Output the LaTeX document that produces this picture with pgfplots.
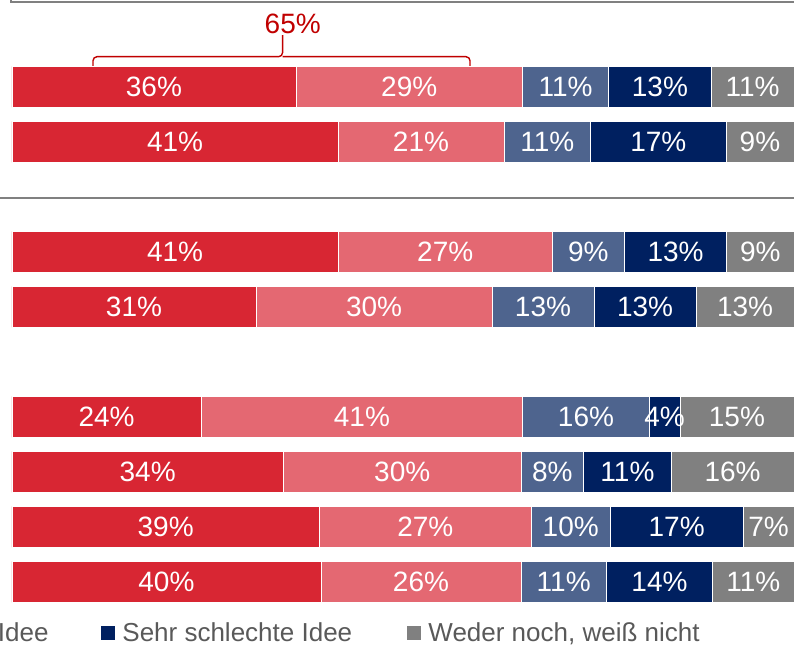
\documentclass[border=0pt]{standalone}
\usepackage{pgfplots}
\pgfplotsset{compat=1.18}
\usepackage{pgfplotstable}
\usepackage{fontspec}
\setmainfont{Liberation Sans}

\definecolor{dred}{RGB}{216,38,51}
\definecolor{lred}{RGB}{228,104,114}
\definecolor{sblue}{RGB}{78,100,142}
\definecolor{navy}{RGB}{0,32,96}
\definecolor{mgray}{RGB}{128,128,128}
\definecolor{txtgray}{RGB}{89,89,89}
\definecolor{anno}{RGB}{192,0,0}

\pgfplotstableread{
y a la b lb c lc d ld e le
0 36.3 36 29.0 29 11.0 11 13.1 13 10.6 11
1 41.7 41 21.2 21 11.1 11 17.3 17 8.7 9
3 41.7 41 27.4 27 9.2 9 13.1 13 8.6 9
4 31.2 31 30.2 30 13.0 13 13.1 13 12.5 13
6 24.2 24 41.1 41 16.2 16 3.9 4 14.6 15
7 34.7 34 30.4 30 8.0 8 11.2 11 15.7 16
8 39.3 39 27.1 27 10.1 10 17.0 17 6.5 7
9 39.5 40 25.6 26 10.9 11 13.6 14 10.4 11
}\data

\begin{document}
\begin{tikzpicture}
\begin{axis}[name=ax, x=3.91pt, y=27.5pt, y dir=reverse,
  xmin=-1.5345, xmax=100, ymin=-1.5818, ymax=10.1636,
  hide axis, clip=false,
  xbar stacked, bar width=20.5pt,
  point meta=explicit symbolic,
  nodes near coords={\pgfplotspointmeta\%},
  every node near coord/.append style={text=white, font=\fontsize{14}{16}\selectfont}]
\addplot[fill=dred, draw=white, line width=0.3pt] table[x=a, y=y, meta=la] {\data};
\addplot[fill=lred, draw=white, line width=0.3pt] table[x=b, y=y, meta=lb] {\data};
\addplot[fill=sblue, draw=white, line width=0.3pt] table[x=c, y=y, meta=lc] {\data};
\addplot[fill=navy, draw=white, line width=0.3pt] table[x=d, y=y, meta=ld] {\data};
\addplot[fill=mgray, draw=white, line width=0.3pt] table[x=e, y=y, meta=le] {\data};

% frame lines
\draw[color=mgray, line width=1pt] (axis cs:-0.128,-1.7) -- (axis cs:-0.128,-1.545) -- (axis cs:100,-1.545);
\draw[color=mgray, line width=1pt] (axis cs:-1.6,2.013) -- (axis cs:100,2.013);

% bracket 65%
\draw[anno, line width=0.7pt, rounded corners=2pt] (axis cs:10.36,-0.145) |- (axis cs:34.6,-0.551) -- (axis cs:34.6,-0.945);
\draw[anno, line width=0.7pt, rounded corners=2pt] (axis cs:58.57,-0.145) |- (axis cs:34.6,-0.551);
\node[text=anno, font=\fontsize{14}{16}\selectfont] at (axis cs:35.9,-1.145) {65\%};

% legend (cropped at the left like the reference)
\node[anchor=base east, text=txtgray, font=\fontsize{13}{15}\selectfont, inner sep=0pt] at (axis cs:4.73,10.073) {Eher schlechte Idee};
\fill[navy] (axis cs:11.38,9.80) rectangle (axis cs:13.17,10.055);
\node[anchor=base west, text=txtgray, font=\fontsize{13}{15}\selectfont, inner sep=0pt] at (axis cs:14.07,10.073) {Sehr schlechte Idee};
\fill[mgray] (axis cs:50.5,9.80) rectangle (axis cs:52.3,10.055);
\node[anchor=base west, text=txtgray, font=\fontsize{13}{15}\selectfont, inner sep=0pt] at (axis cs:53.2,10.073) {Weder noch, weiß nicht};
\end{axis}
\pgfresetboundingbox
\path (ax.south west) rectangle (ax.north east);
\end{tikzpicture}
\end{document}
